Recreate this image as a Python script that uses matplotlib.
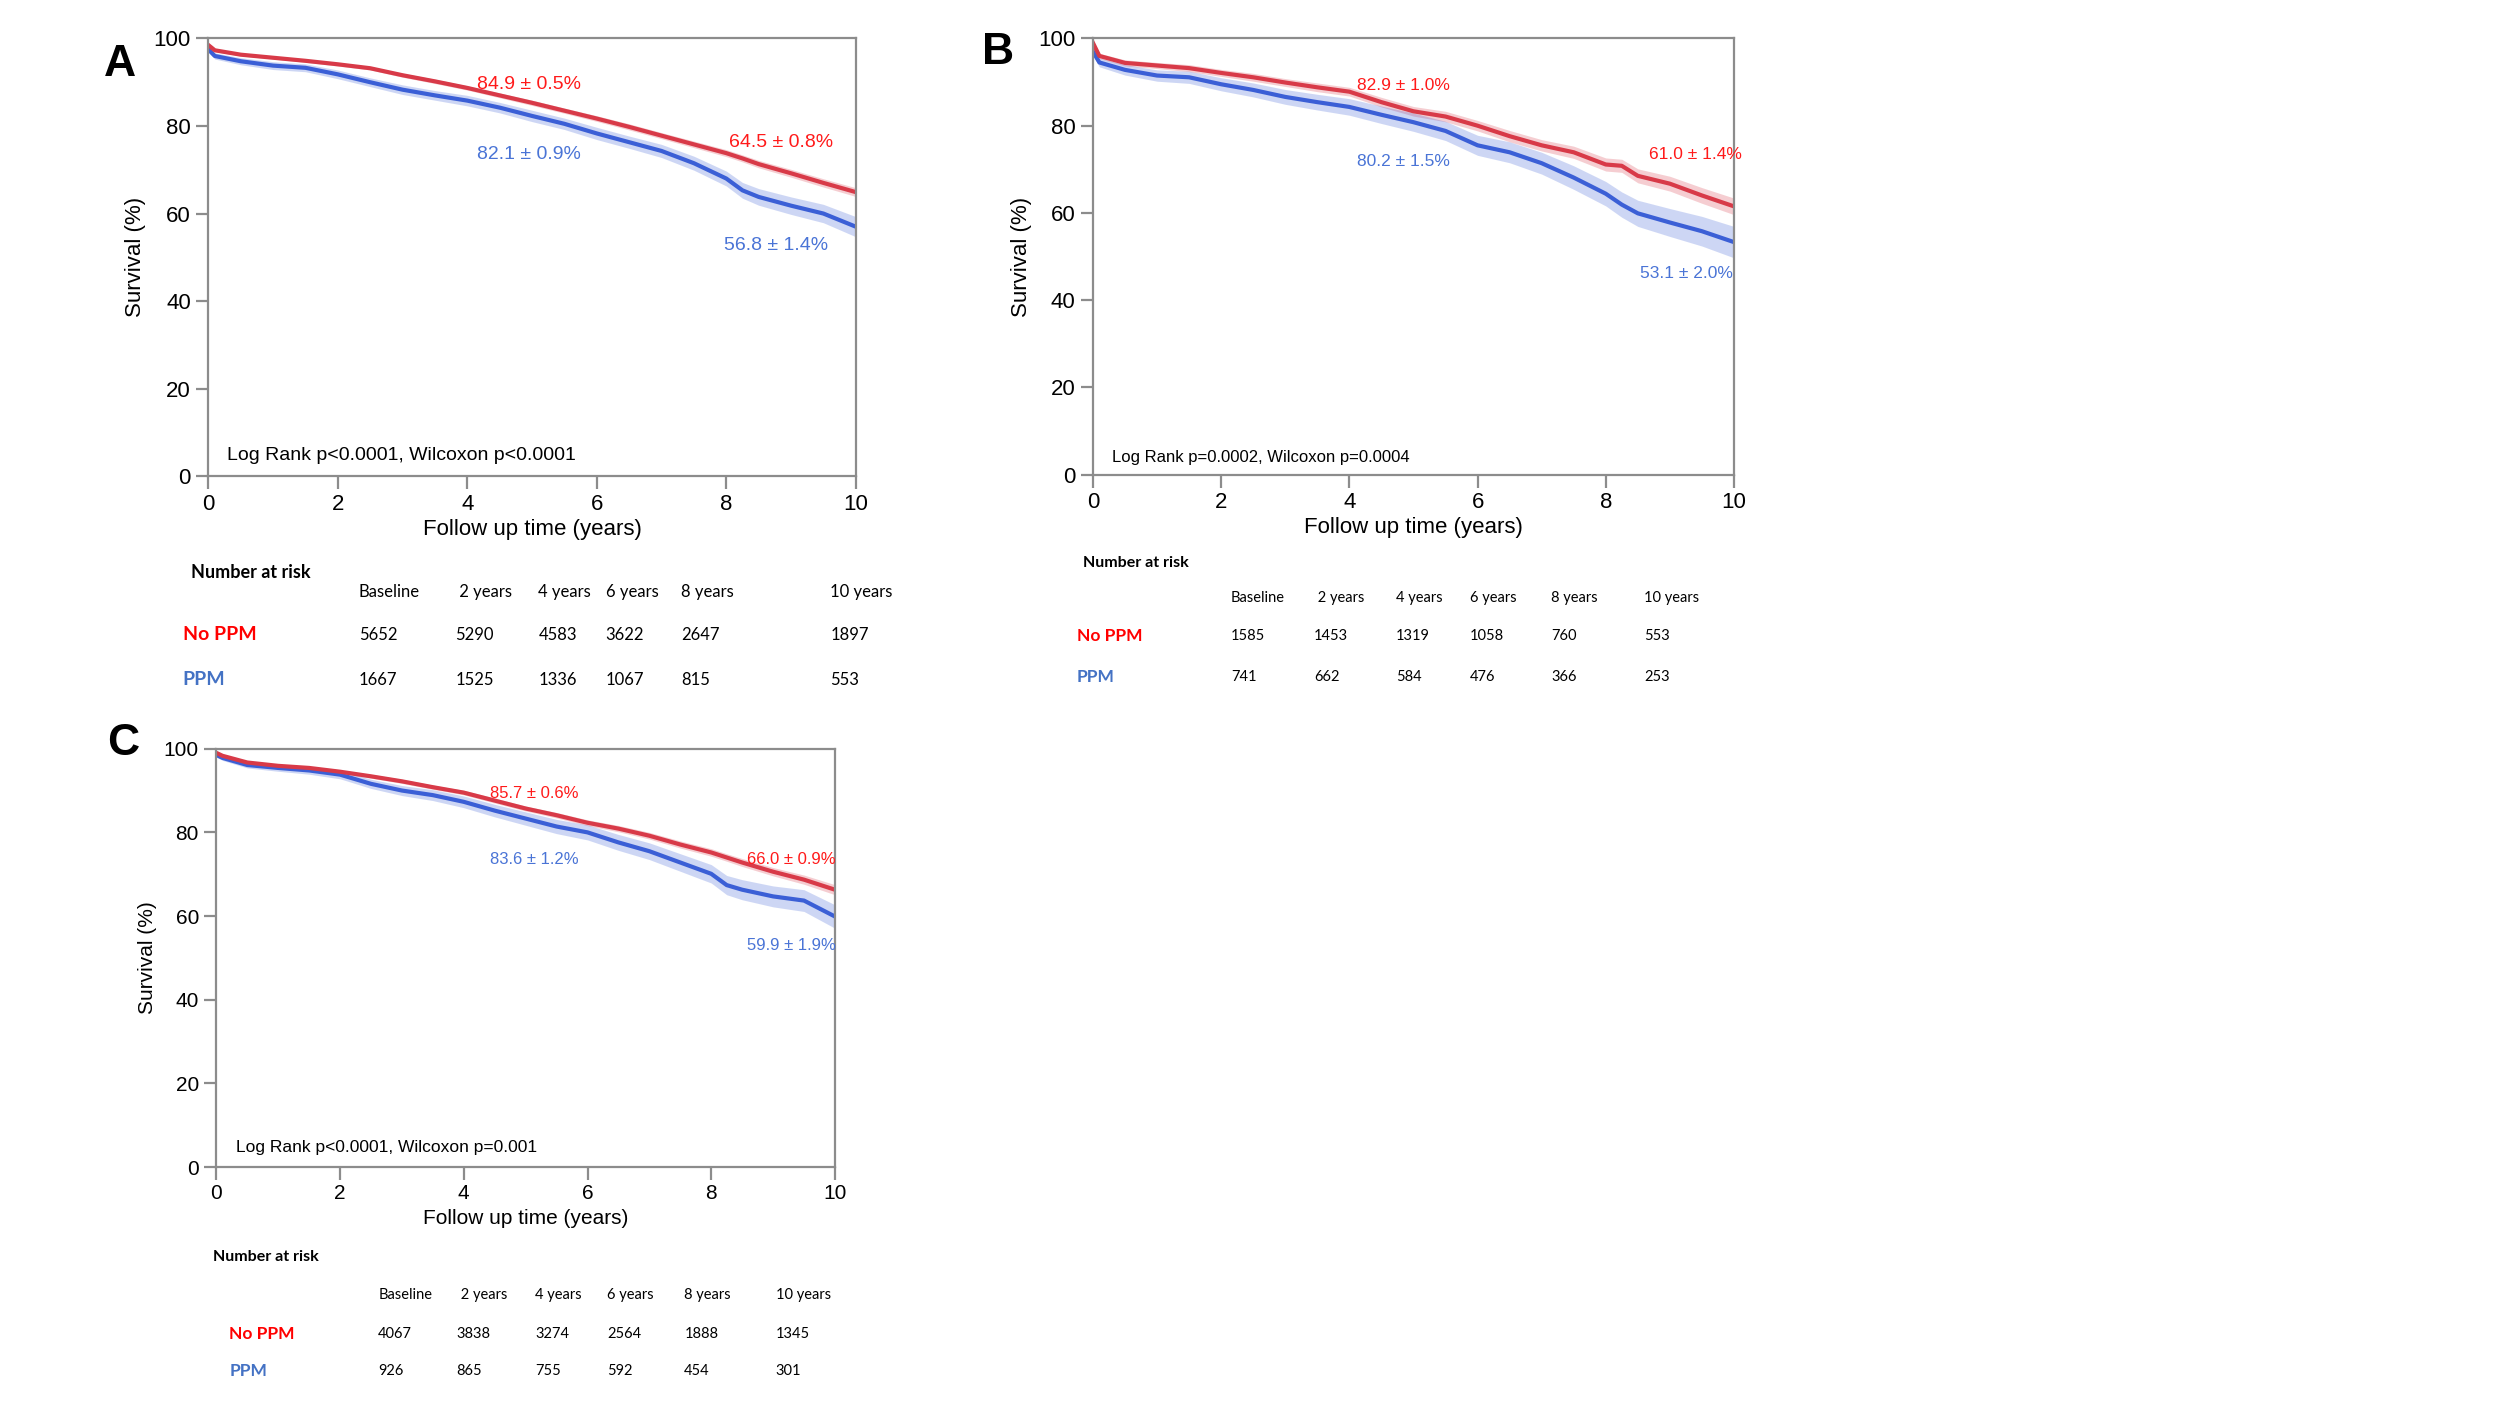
import matplotlib
matplotlib.use("Agg")
import matplotlib.pyplot as plt
import numpy as np

# tiempos de lectura (años) comunes a las tres curvas
years = [0, 0.1, 0.5, 1, 1.5, 2, 2.5, 3, 3.5, 4, 4.5, 5, 5.5, 6, 6.5, 7, 7.5, 8, 8.25, 8.5, 9, 9.5, 10]

# Panel A
a_noppm = [98.5, 97.3, 96.3, 95.6, 94.9, 94.1, 93.2, 91.6, 90.2, 88.7, 87.0, 85.3, 83.5, 81.7, 79.8, 77.8, 75.8, 73.8, 72.6, 71.3, 69.2, 67.0, 64.9]
a_noppm_ci = [0.2, 0.3, 0.3, 0.3, 0.35, 0.4, 0.4, 0.45, 0.5, 0.5, 0.55, 0.6, 0.6, 0.65, 0.7, 0.7, 0.75, 0.8, 0.8, 0.85, 0.9, 0.95, 1.0]
a_ppm = [97.5, 96.0, 94.8, 93.8, 93.3, 91.8, 90.0, 88.3, 87.0, 85.8, 84.2, 82.3, 80.5, 78.3, 76.3, 74.3, 71.5, 68.0, 65.3, 63.8, 61.8, 60.0, 57.0]
a_ppm_ci = [0.5, 0.7, 0.8, 0.9, 0.9, 1.0, 1.0, 1.1, 1.1, 1.2, 1.2, 1.3, 1.3, 1.4, 1.4, 1.5, 1.6, 1.7, 1.8, 1.9, 2.0, 2.1, 2.3]

# Panel B
b_noppm = [99.0, 96.0, 94.4, 93.8, 93.2, 92.1, 91.1, 89.9, 88.8, 87.8, 85.4, 83.3, 82.1, 80.0, 77.6, 75.5, 73.9, 71.1, 70.8, 68.5, 66.7, 64.0, 61.5]
b_noppm_ci = [0.4, 0.6, 0.7, 0.7, 0.8, 0.8, 0.9, 0.9, 1.0, 1.0, 1.1, 1.1, 1.2, 1.2, 1.3, 1.3, 1.4, 1.5, 1.5, 1.6, 1.7, 1.8, 1.9]
b_ppm = [97.0, 94.5, 92.8, 91.5, 91.1, 89.5, 88.2, 86.6, 85.4, 84.3, 82.5, 80.8, 78.8, 75.5, 73.9, 71.4, 68.1, 64.4, 61.9, 59.9, 57.8, 55.8, 53.3]
b_ppm_ci = [0.8, 1.0, 1.2, 1.3, 1.4, 1.5, 1.6, 1.7, 1.8, 1.9, 2.0, 2.1, 2.2, 2.3, 2.4, 2.5, 2.7, 2.8, 2.9, 3.0, 3.2, 3.4, 3.6]

# Panel C
c_noppm = [99.0, 98.3, 96.7, 95.9, 95.4, 94.5, 93.4, 92.2, 90.8, 89.5, 87.6, 85.7, 84.1, 82.3, 80.9, 79.2, 77.1, 75.2, 74.0, 72.8, 70.6, 68.7, 66.3]
c_noppm_ci = [0.2, 0.3, 0.3, 0.35, 0.4, 0.4, 0.45, 0.5, 0.5, 0.55, 0.6, 0.6, 0.65, 0.7, 0.75, 0.8, 0.85, 0.9, 0.9, 0.95, 1.0, 1.1, 1.2]
c_ppm = [98.5, 97.8, 96.1, 95.4, 94.8, 93.8, 91.6, 90.0, 88.9, 87.3, 85.2, 83.3, 81.4, 80.0, 77.6, 75.5, 72.8, 70.1, 67.4, 66.3, 64.7, 63.7, 59.9]
c_ppm_ci = [0.5, 0.6, 0.7, 0.8, 0.9, 1.0, 1.1, 1.2, 1.3, 1.4, 1.5, 1.6, 1.7, 1.8, 1.9, 2.0, 2.1, 2.2, 2.3, 2.4, 2.5, 2.6, 2.8]

# anotaciones de supervivencia a 5 y 10 años
a_labels = ["84.9 \u00b1 0.5%", "82.1 \u00b1 0.9%", "64.5 \u00b1 0.8%", "56.8 \u00b1 1.4%"]
b_labels = ["82.9 \u00b1 1.0%", "80.2 \u00b1 1.5%", "61.0 \u00b1 1.4%", "53.1 \u00b1 2.0%"]
c_labels = ["85.7 \u00b1 0.6%", "83.6 \u00b1 1.2%", "66.0 \u00b1 0.9%", "59.9 \u00b1 1.9%"]

a_test = "Log Rank p<0.0001, Wilcoxon p<0.0001"
b_test = "Log Rank p=0.0002, Wilcoxon p=0.0004"
c_test = "Log Rank p<0.0001, Wilcoxon p=0.001"

# número en riesgo
risk_cols = ["Baseline", " 2 years", "4 years", "6 years", "8 years", "10 years"]
a_risk_noppm = [5652, 5290, 4583, 3622, 2647, 1897]
a_risk_ppm = [1667, 1525, 1336, 1067, 815, 553]
b_risk_noppm = [1585, 1453, 1319, 1058, 760, 553]
b_risk_ppm = [741, 662, 584, 476, 366, 253]
c_risk_noppm = [4067, 3838, 3274, 2564, 1888, 1345]
c_risk_ppm = [926, 865, 755, 592, 454, 301]

RED = "#d83a48"
BLUE = "#3b5fd6"
RED_TXT = "#ff1a1a"
BLUE_TXT = "#4a74d6"
FRAME = "#8c8c8c"

NARROW = ["Liberation Sans Narrow", "Liberation Sans", "DejaVu Sans"]
ARIAL = ["Liberation Sans", "DejaVu Sans"]
TABLE = ["Lato", "DejaVu Sans"]

W, H = 1560.0, 877.0  # referencia en px de la vista reducida


def fx(x):
    return x / W


def fy(y):
    return 1 - y / H


fig = plt.figure(figsize=(25, 14.06), dpi=100)


def panel(rect, red, red_ci, blue, blue_ci, labels, label_pos, test, test_pos,
          fs_tick, fs_lab, fs_ann, fs_test):
    ax = fig.add_axes(rect)
    t = np.array(years)
    r = np.array(red)
    b = np.array(blue)
    ax.fill_between(t, r - np.array(red_ci), r + np.array(red_ci), color=RED, alpha=0.25, lw=0)
    ax.fill_between(t, b - np.array(blue_ci), b + np.array(blue_ci), color=BLUE, alpha=0.25, lw=0)
    ax.plot(t, b, color=BLUE, lw=3)
    ax.plot(t, r, color=RED, lw=3)
    ax.set_xlim(0, 10)
    ax.set_ylim(0, 100)
    ax.set_xticks(range(0, 11, 2))
    ax.set_yticks(range(0, 101, 20))
    for s in ax.spines.values():
        s.set_color(FRAME)
        s.set_linewidth(1.6)
    ax.tick_params(direction="out", length=9, width=1.6, color=FRAME, labelsize=fs_tick)
    for lab in ax.get_xticklabels() + ax.get_yticklabels():
        lab.set_family(NARROW)
    ax.set_xlabel("Follow up time (years)", fontsize=fs_lab, family=ARIAL)
    ax.set_ylabel("Survival (%)", fontsize=fs_lab, family=ARIAL)
    ax.xaxis.label.set_va("center")
    ax.yaxis.label.set_va("center")
    ax.xaxis.set_label_coords(0.5, -0.122)
    ax.yaxis.set_label_coords(-0.112, 0.5)
    colors = [RED_TXT, BLUE_TXT, RED_TXT, BLUE_TXT]
    for txt, (x, y), c in zip(labels, label_pos, colors):
        ax.text(x, y, txt, color=c, fontsize=fs_ann, ha="center", va="center", family=NARROW)
    ax.text(test_pos[0], test_pos[1], test, fontsize=fs_test, ha="left", va="center", family=NARROW)
    return ax


def risk_table(title_xy, head_y, col_x, rows_y, label_x, noppm, ppm, fs, fs_bold):
    fig.text(fx(title_xy[0]), fy(title_xy[1]), "Number at risk", fontsize=fs_bold,
             weight="bold", family=TABLE, va="center")
    for x, h in zip(col_x, risk_cols):
        fig.text(fx(x), fy(head_y), h, fontsize=fs, family=TABLE, va="center")
    fig.text(fx(label_x), fy(rows_y[0]), "No PPM", fontsize=fs_bold + 1, weight="bold",
             color="#ff0000", family=TABLE, va="center")
    fig.text(fx(label_x), fy(rows_y[1]), "PPM", fontsize=fs_bold + 1, weight="bold",
             color="#4472c4", family=TABLE, va="center")
    for x, v1, v2 in zip(col_x, noppm, ppm):
        fig.text(fx(x), fy(rows_y[0]), str(v1), fontsize=fs, family=TABLE, va="center")
        fig.text(fx(x), fy(rows_y[1]), str(v2), fontsize=fs, family=TABLE, va="center")


# Panel A
panel([fx(130), fy(297), fx(534 - 130), (297 - 24) / H],
      a_noppm, a_noppm_ci, a_ppm, a_ppm_ci, a_labels,
      [(4.95, 89.4), (4.95, 73.6), (8.85, 76.2), (8.77, 52.7)],
      a_test, (0.29, 4.8), 16, 16, 14, 14)
fig.text(fx(75), fy(40), "A", fontsize=32, weight="bold", family=NARROW, ha="center", va="center")
risk_table((119, 357), 369, [224, 284, 336, 378, 425, 518], (396, 424), 114,
           a_risk_noppm, a_risk_ppm, 12, 13)

# Panel B
panel([fx(682), fy(296), fx(1082 - 682), (296 - 24) / H],
      b_noppm, b_noppm_ci, b_ppm, b_ppm_ci, b_labels,
      [(4.85, 89.3), (4.85, 71.7), (9.4, 73.5), (9.26, 46.0)],
      b_test, (0.30, 3.9), 16, 16, 12.5, 12)
fig.text(fx(623), fy(33), "B", fontsize=32, weight="bold", family=NARROW, ha="center", va="center")
risk_table((676, 351), 373, [768, 820, 871, 917, 968, 1026], (397, 422), 672,
           b_risk_noppm, b_risk_ppm, 10.5, 11.5)

# Panel C
panel([fx(135), fy(728), fx(521 - 135), (728 - 467) / H],
      c_noppm, c_noppm_ci, c_ppm, c_ppm_ci, c_labels,
      [(5.14, 89.3), (5.14, 73.6), (9.3, 73.6), (9.3, 52.9)],
      c_test, (0.31, 4.6), 15, 15, 12, 12.5)
fig.text(fx(77), fy(464), "C", fontsize=32, weight="bold", family=NARROW, ha="center", va="center")
risk_table((133, 784), 808, [236, 285, 334, 379, 427, 484], (832, 855), 143,
           c_risk_noppm, c_risk_ppm, 10.5, 11.5)

fig.savefig("out.png", dpi=100, facecolor="white")
